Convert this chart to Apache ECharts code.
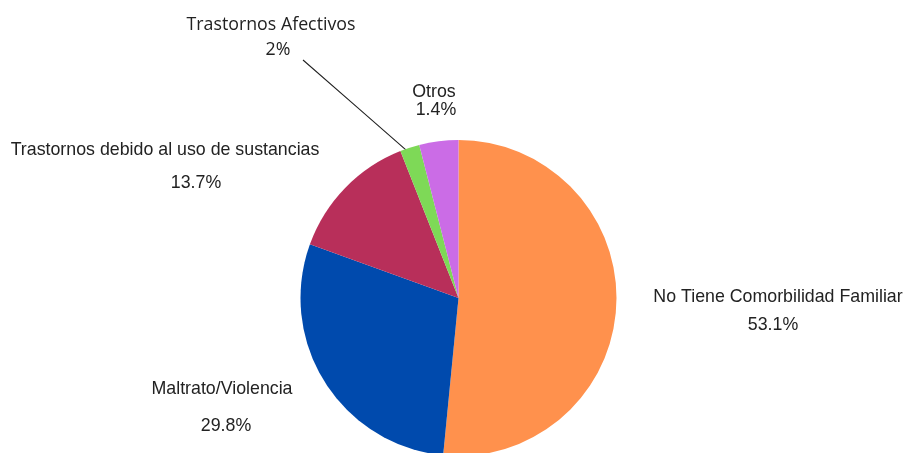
<!DOCTYPE html>
<html><head><meta charset="utf-8">
<script src="https://cdn.jsdelivr.net/npm/echarts@6/dist/echarts.min.js"></script>
<style>html,body{margin:0;padding:0;background:#fff}#c{width:906px;height:453px}</style>
</head><body><div id="c"></div>
<script>
const categories = ['No Tiene Comorbilidad Familiar','Maltrato/Violencia','Trastornos debido al uso de sustancias','Trastornos Afectivos','Otros'];
const values = [51.6, 29.0, 13.5, 2.0, 4.0];
const percentLabels = ['53.1%','29.8%','13.7%','2%','1.4%'];
const colors = ['#FF914D','#004AAD','#B82F5A','#7ED957','#CB6CE6'];

const CX = 458.5, CY = 298, R = 158;
// label layout: name centre (x,y), percent centre (x,y), font
const labelPos = [
  {nx:778, ny:297, px:773, py:325, font:'Liberation Sans'},
  {nx:222, ny:389, px:226, py:426, font:'Liberation Sans'},
  {nx:165, ny:150, px:196, py:183, font:'Liberation Sans'},
  {nx:271, ny:25,  px:278, py:50,  font:'Open Sans'},
  {nx:434, ny:92,  px:436, py:110, font:'Liberation Sans'}
];
const FS = 17.8;
const NLH = 20;
const data = categories.map((name, i) => {
  const p = labelPos[i];
  const dy = p.py - p.ny;
  const off = p.px - p.nx;
  const pad = off >= 0 ? [0,0,0,2*off] : [0,-2*off,0,0];
  return {
    name, value: values[i],
    itemStyle: {color: colors[i], borderWidth: 0},
    label: {
      formatter: '{n|' + name + '}\n{p|' + percentLabels[i] + '}',
      rich: {
        n: {fontFamily: p.font, fontSize: FS, color: '#222', lineHeight: NLH},
        p: {fontFamily: p.font, fontSize: FS, color: '#222', lineHeight: 2*dy - NLH, padding: pad}
      }
    },
    labelLine: {show: i === 3, lineStyle: {color: '#222', width: 1.1}}
  };
});

// leader line for the small "Trastornos Afectivos" slice, starting inside the slice at its mid angle
const total = values.reduce((a, b) => a + b, 0);
function midAngle(i) {
  let acc = 0;
  for (let k = 0; k < i; k++) acc += values[k];
  return ((acc + values[i] / 2) / total) * 2 * Math.PI; // clockwise from 12 o'clock
}

const chart = echarts.init(document.getElementById('c'), null, {renderer: 'canvas'});
chart.setOption({
  animation: false,
  series: [{
    type: 'pie',
    center: [CX, CY],
    radius: R,
    startAngle: 90,
    clockwise: true,
    data,
    itemStyle: {borderWidth: 0},
    label: {show: true, position: 'outside', overflow: 'none', edgeDistance: 0},
    labelLine: {show: false, length: 10, length2: 10},
    labelLayout: function (params) {
      const i = params.dataIndex;
      const p = labelPos[i];
      const out = {x: p.nx, y: p.ny - NLH/2, align: 'center', verticalAlign: 'top'};
      if (i === 3) {
        const a = midAngle(i);
        const r0 = R - 8;
        const sx = CX + r0 * Math.sin(a), sy = CY - r0 * Math.cos(a);
        const ex = p.px + 25, ey = p.py + 10;
        out.labelLinePoints = [[sx, sy], [(sx + ex) / 2, (sy + ey) / 2], [ex, ey]];
      }
      return out;
    }
  }]
});
</script></body></html>
